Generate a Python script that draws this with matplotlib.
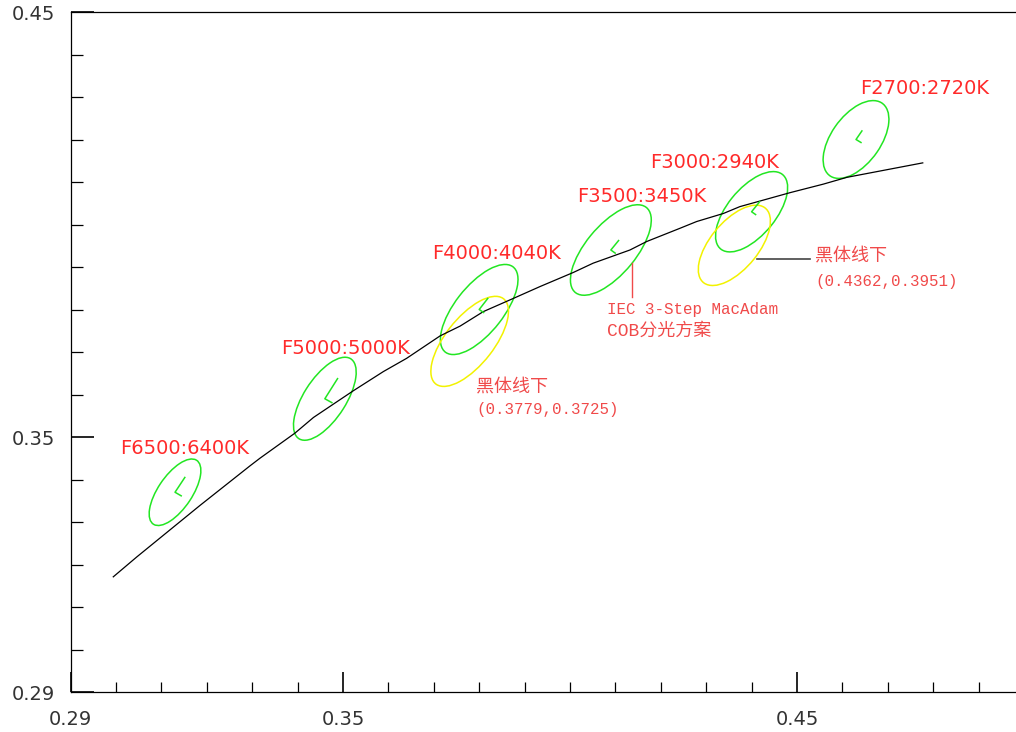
import numpy as np
import matplotlib
matplotlib.use("Agg")
import matplotlib.pyplot as plt
from matplotlib.patches import Ellipse

# blackbody (Planckian) locus
locus_x = [0.2994, 0.3046, 0.3185, 0.3295, 0.3317, 0.3394, 0.3435, 0.3523, 0.3589,
           0.3640, 0.3714, 0.3758, 0.3809, 0.3875, 0.3934, 0.4007, 0.4051, 0.4132,
           0.4169, 0.4242, 0.4279, 0.4338, 0.4374, 0.4485, 0.4558, 0.4610, 0.4777]
locus_y = [0.3171, 0.3218, 0.3339, 0.3432, 0.3450, 0.3509, 0.3546, 0.3609, 0.3654,
           0.3685, 0.3738, 0.3761, 0.3795, 0.3826, 0.3854, 0.3887, 0.3909, 0.3940,
           0.3960, 0.3991, 0.4007, 0.4026, 0.4042, 0.4075, 0.4095, 0.4111, 0.4145]

# IEC ellipses (F-series)
ell_names = ["F6500:6400K", "F5000:5000K", "F4000:4040K",
             "F3500:3450K", "F3000:2940K", "F2700:2720K"]
ell_cx = [0.313, 0.346, 0.380, 0.409, 0.440, 0.463]
ell_cy = [0.337, 0.359, 0.380, 0.394, 0.403, 0.420]
ell_a = [0.0089, 0.0110, 0.0125, 0.0127, 0.0111, 0.0103]
ell_b = [0.0038, 0.0047, 0.0054, 0.0056, 0.0054, 0.0055]
ell_ang = [58.2, 59.4, 54.0, 52.6, 53.1, 57.2]
mark_long = [0.0041, 0.0055, 0.0032, 0.0028, 0.0029, 0.0024]
mark_short = [0.0016, 0.0018, 0.0012, 0.0012, 0.0011, 0.0013]
label_x = [0.3009, 0.3363, 0.3696, 0.4015, 0.4176, 0.4639]
label_y = [0.3474, 0.3709, 0.3931, 0.4065, 0.4147, 0.4321]

# shifted ellipses below the blackbody line (copies of F4000 / F3000)
low_cx = [0.3779, 0.4362]
low_cy = [0.3725, 0.3951]
low_src = [2, 4]
low_title = ["黑体线下", "黑体线下"]
low_coord = ["(0.3779,0.3725)", "(0.4362,0.3951)"]
low_text_x = [0.3793, 0.4540]
low_title_y = [0.3615, 0.3923]
low_coord_y = [0.3564, 0.3865]

GREEN = "#22e622"
YELLOW = "#f2f200"
RED = "#ff2a2a"
NOTE_RED = "#f04a4a"

fig = plt.figure(figsize=(10.16, 7.32), dpi=100)
ax = fig.add_axes([70.6 / 1016, 40 / 732, 945.4 / 1016, 680 / 732])
ax.set_xlim(0.29, 0.29 + 945.4 / 4540)
ax.set_ylim(0.29, 0.45)

ax.plot(locus_x, locus_y, color="black", lw=0.9)

for i in range(len(ell_names)):
    ax.add_patch(Ellipse((ell_cx[i], ell_cy[i]), 2 * ell_a[i], 2 * ell_b[i],
                         angle=ell_ang[i], fill=False, ec=GREEN, lw=1.1))
    t = np.deg2rad(ell_ang[i])
    ax.plot([ell_cx[i] + mark_long[i] * np.cos(t), ell_cx[i],
             ell_cx[i] + mark_short[i] * np.sin(t)],
            [ell_cy[i] + mark_long[i] * np.sin(t), ell_cy[i],
             ell_cy[i] - mark_short[i] * np.cos(t)], color=GREEN, lw=1.1)
    ax.text(label_x[i], label_y[i], ell_names[i], color=RED, fontsize=14,
            va="center", ha="left", family="DejaVu Sans")

note_font = ["Liberation Mono", "Noto Sans CJK SC"]
for j in range(len(low_cx)):
    k = low_src[j]
    ax.add_patch(Ellipse((low_cx[j], low_cy[j]), 2 * ell_a[k], 2 * ell_b[k],
                         angle=ell_ang[k], fill=False, ec=YELLOW, lw=1.1))
    ax.text(low_text_x[j], low_title_y[j], low_title[j], color=NOTE_RED,
            fontsize=13, va="center", ha="left", family=note_font)
    ax.text(low_text_x[j], low_coord_y[j], low_coord[j], color=NOTE_RED,
            fontsize=11.3, va="center", ha="left", family=note_font)

# leader line for the right-hand note
ax.plot([0.4411, 0.4529], [0.3919, 0.3919], color="#444444", lw=1.2)

# IEC note with its red pointer
ax.plot([0.4136, 0.4136], [0.3909, 0.3830], color=NOTE_RED, lw=1.0)
ax.text(0.4081, 0.3800, "IEC 3-Step MacAdam", color=NOTE_RED,
        fontsize=11.4, va="center", ha="left", family=note_font)
ax.text(0.4081, 0.3749, "COB分光方案", color=NOTE_RED,
        fontsize=13, va="center", ha="left", family=note_font)

# axes styling
ax.spines["right"].set_visible(False)
for s in ["left", "bottom", "top"]:
    ax.spines[s].set_linewidth(0.9)

ax.set_xticks([0.29, 0.35, 0.45])
ax.set_xticklabels(["0.29", "0.35", "0.45"])
ax.set_yticks([0.29, 0.35, 0.45])
ax.set_yticklabels(["0.29", "0.35", "0.45"])
ax.set_xticks([v / 100 for v in range(30, 50) if v not in (35, 45)], minor=True)
ax.set_yticks([v / 100 for v in range(30, 45) if v != 35], minor=True)

ax.tick_params(axis="x", which="major", direction="in", length=14.4, width=1.2,
               pad=13, labelsize=14, labelcolor="#333333")
ax.tick_params(axis="x", which="minor", direction="in", length=7.2, width=0.9)
ax.tick_params(axis="y", which="major", direction="in", length=16.5, width=1.2,
               pad=11.5, labelsize=14, labelcolor="#333333")
ax.tick_params(axis="y", which="minor", direction="in", length=8.6, width=0.9)

fig.savefig("out.png", dpi=100)
